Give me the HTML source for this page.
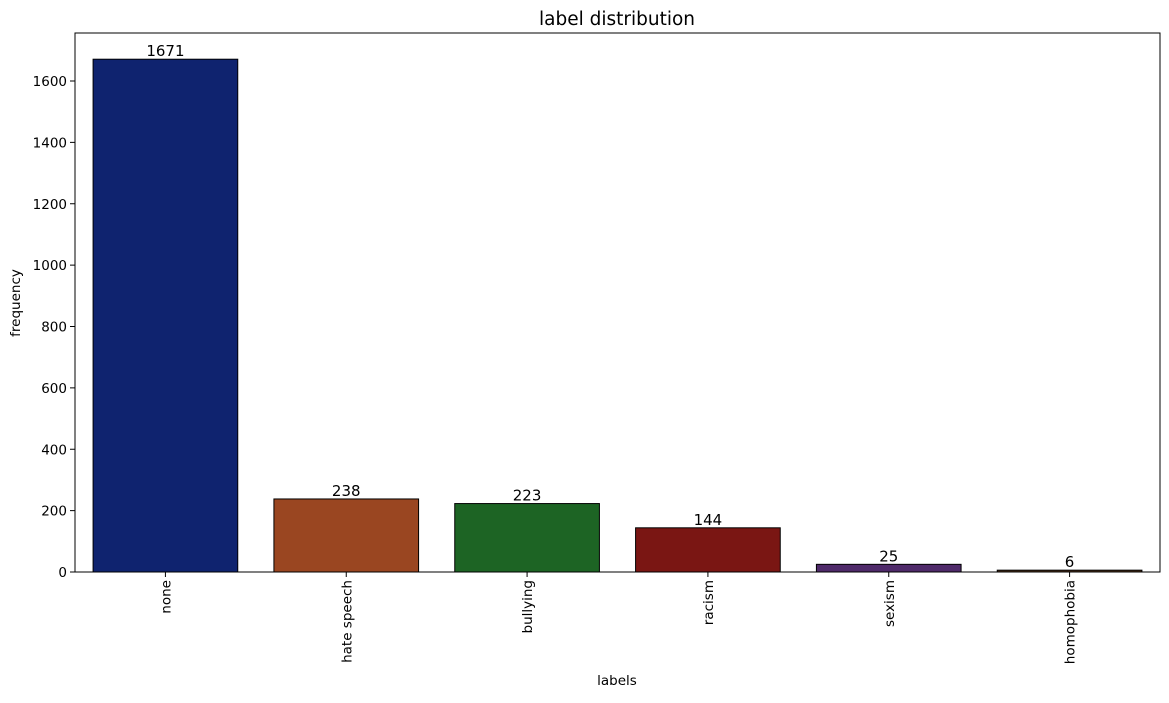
<!DOCTYPE html>
<html><head><meta charset="utf-8"><style>
body{margin:0;background:#fff;}
text{font-family:"DejaVu Sans","Liberation Sans",sans-serif;}
</style></head><body>
<svg id="chart" width="1169" height="698" xmlns="http://www.w3.org/2000/svg">
<rect width="1169" height="698" fill="#fff"/>
<text x="617" y="25" font-size="18.5" text-anchor="middle" fill="#000">label distribution</text>
<text x="617" y="685" font-size="13.5" text-anchor="middle">labels</text>
<text transform="translate(20,303) rotate(-90)" font-size="13.5" text-anchor="middle">frequency</text>
<g id="bars"></g><g id="yt"></g><g id="xt"></g>
<rect x="75" y="33" width="1085" height="539" fill="none" stroke="#000" stroke-width="1"/>
</svg>
<script>
const categories=["none","hate speech","bullying","racism","sexism","homophobia"];
const values=[1671,238,223,144,25,6];
const colors=["#0f236f","#9a4621","#1d6424","#7a1613","#4f2a6a","#54331c"];
const yTicks=[0,200,400,600,800,1000,1200,1400,1600];
const L=75,R=1160,T=33,B=572;
const ns="http://www.w3.org/2000/svg";
function y(v){return B-v*(491/1600);}
const step=(R-L)/categories.length;
function xc(i){return L+step*(i+0.5);}
function mk(t,a,p){const e=document.createElementNS(ns,t);for(const k in a)e.setAttribute(k,a[k]);p.appendChild(e);return e;}
const gb=document.getElementById('bars'),gy=document.getElementById('yt'),gx=document.getElementById('xt');
categories.forEach((c,i)=>{
 const w=step*0.8;
 const r=mk('rect',{x:xc(i)-w/2,y:y(values[i]),width:w,height:B-y(values[i]),fill:colors[i],stroke:"#000","stroke-width":1},gb);
 
 
 const t=mk('text',{x:xc(i),y:y(values[i])-3,"font-size":15,"text-anchor":"middle"},gb);
 t.textContent=values[i];
 
 
 const tk=mk('line',{x1:xc(i),x2:xc(i),y1:B,y2:B+5,stroke:"#000"},gx);
 
 
 const lt=mk('text',{transform:`translate(${xc(i)+5},${B+8}) rotate(-90)`,"font-size":13.5,"text-anchor":"end"},gx);
 lt.textContent=c;
 
 
});
yTicks.forEach(v=>{
 const tk=mk('line',{x1:L-5,x2:L,y1:y(v),y2:y(v),stroke:"#000"},gy);
 
 
 const t=mk('text',{x:L-8,y:y(v)+5,"font-size":13.5,"text-anchor":"end"},gy);
 t.textContent=v;
 
 
});
</script>
</body></html>
